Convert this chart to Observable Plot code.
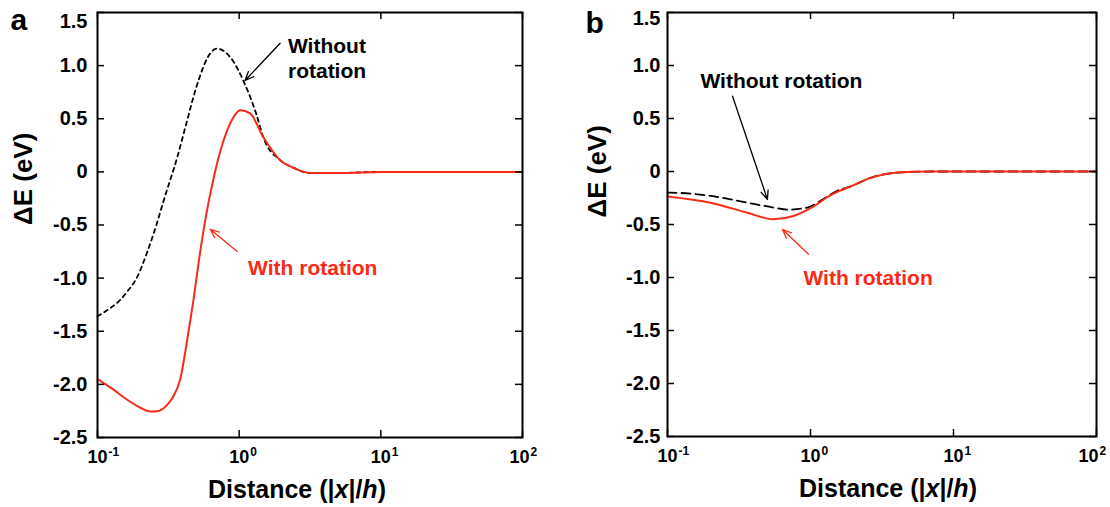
<!DOCTYPE html>
<html><head><meta charset="utf-8">
<script src="https://cdn.jsdelivr.net/npm/d3@7"></script>
<script src="https://cdn.jsdelivr.net/npm/@observablehq/plot@0.6"></script>
<style>
body{margin:0;background:#fff;}
#wrap{display:flex;width:1110px;height:507px;overflow:hidden;}
</style></head><body><div id="wrap"></div>
<script>
// ---- tick data ----
const xTicks = [0.1, 1, 10, 100];
const xTickBase = ["10", "10", "10", "10"];
const xTickExp = ["-1", "0", "1", "2"];
const yTicks = [1.5, 1, 0.5, 0, -0.5, -1, -1.5, -2, -2.5];
const yTickLabels = ["1.5", "1.0", "0.5", "0", "-0.5", "-1.0", "-1.5", "-2.0", "-2.5"];
const xTitle = "Distance (|x|/h)";
const yTitle = "ΔE (eV)";

// ---- panel a ----
const aWithoutX = [0.1, 0.1176, 0.1383, 0.1626, 0.1913, 0.225, 0.2646, 0.2917, 0.366, 0.4305, 0.4745, 0.5314, 0.595, 0.70, 0.864, 1.102, 1.339, 1.476, 1.945, 2.40, 3.16, 5.14, 10, 100];
const aWithoutY = [-1.36, -1.30, -1.23, -1.125, -0.985, -0.75, -0.47, -0.28, 0.14, 0.49, 0.70, 0.91, 1.07, 1.16, 1.08, 0.82, 0.52, 0.33, 0.11, 0.04, -0.01, -0.01, 0, 0];
const aWithX = [0.1, 0.1297, 0.160, 0.201, 0.236, 0.269, 0.301, 0.337, 0.384, 0.43, 0.474, 0.531, 0.586, 0.656, 0.734, 0.823, 0.908, 1.016, 1.195, 1.475, 1.945, 2.40, 3.16, 5.14, 10, 100];
const aWithY = [-1.95, -2.05, -2.14, -2.22, -2.255, -2.25, -2.21, -2.13, -1.95, -1.58, -1.22, -0.75, -0.40, -0.075, 0.19, 0.39, 0.51, 0.58, 0.55, 0.33, 0.11, 0.04, -0.01, -0.01, 0, 0];
const aTexts = [
  {x: 2.21, y: 1.285, text: "Without\nrotation", color: "black"},
  {x: 1.156, y: -0.80, text: "With rotation", color: "red"}
];
const aArrows = [
  {x1: 1.945, y1: 1.21, x2: 1.10, y2: 0.86, color: "black"},
  {x1: 0.969, y1: -0.75, x2: 0.625, y2: -0.54, color: "red"}
];

// ---- panel b ----
const bWithoutX = [0.1, 0.105, 0.2, 0.363, 0.55, 0.69, 0.953, 1.23, 1.55, 1.91, 2.63, 4.05, 6.9, 10, 100];
const bWithoutY = [-0.20, -0.20, -0.23, -0.295, -0.34, -0.36, -0.34, -0.26, -0.18, -0.14, -0.06, -0.01, 0, 0, 0];
const bWithX = [0.1, 0.2, 0.363, 0.55, 0.76, 1.05, 1.32, 1.55, 1.91, 2.63, 4.05, 6.9, 10, 100];
const bWithY = [-0.235, -0.295, -0.39, -0.45, -0.42, -0.33, -0.24, -0.19, -0.14, -0.06, -0.01, 0, 0, 0];
const bTexts = [
  {x: 0.170, y: 0.96, text: "Without rotation", color: "black"},
  {x: 0.893, y: -0.906, text: "With rotation", color: "red"}
];
const bArrows = [
  {x1: 0.285, y1: 0.71, x2: 0.50, y2: -0.264, color: "black"},
  {x1: 0.968, y1: -0.78, x2: 0.637, y2: -0.547, color: "red"}
];

const RED = "#fb2a17";
const toPts = (xs, ys) => xs.map((x, i) => ({x, y: ys[i]}));
const col = c => c === "red" ? RED : "black";
const xFmt = d => xTickBase[xTicks.indexOf(d)];
const yFmt = d => yTickLabels[yTicks.indexOf(d)];

function panel(cfg) {
  const W = 555, H = 507;
  const pw = W - cfg.ml - cfg.mr, ph = H - cfg.mt - cfg.mb;
  const mainTicks = xTicks.slice(0, 3), lastTick = xTicks.slice(3);
  const plot = Plot.plot({
    width: W, height: H,
    marginLeft: cfg.ml, marginRight: cfg.mr, marginTop: cfg.mt, marginBottom: cfg.mb,
    style: {fontFamily: "'Liberation Sans', Arial, Helvetica, sans-serif", fontWeight: "bold", fontSize: "20px", color: "black", background: "white"},
    x: {type: "log", domain: [0.1, 100]},
    y: {domain: [-2.5, 1.5]},
    marks: [
      Plot.line(toPts(cfg.withoutX, cfg.withoutY), {x: "x", y: "y", stroke: "black", strokeWidth: 1.8, strokeDasharray: cfg.dash, curve: "monotone-x"}),
      Plot.line(toPts(cfg.withX, cfg.withY), {x: "x", y: "y", stroke: RED, strokeWidth: 2, curve: "monotone-x"}),
      Plot.arrow(cfg.arrows, {x1: "x1", y1: "y1", x2: "x2", y2: "y2", stroke: d => col(d.color), strokeWidth: 1.3, headLength: 11, headAngle: 45}),
      Plot.text(cfg.texts, {x: "x", y: "y", text: "text", fill: d => col(d.color), textAnchor: "start", lineAnchor: "top", fontSize: 21, lineHeight: 1.2, fontWeight: "bold"}),
      Plot.ruleX(xTicks, {x: d => d, insetTop: ph - 7, stroke: "black", strokeWidth: 1.5}),
      Plot.ruleX(xTicks, {x: d => d, insetBottom: ph - 7, stroke: "black", strokeWidth: 1.5}),
      Plot.ruleY(yTicks, {y: d => d, insetRight: pw - 7, stroke: "black", strokeWidth: 1.5}),
      Plot.ruleY(yTicks, {y: d => d, insetLeft: pw - 7, stroke: "black", strokeWidth: 1.5}),
      Plot.frame({stroke: "black", strokeWidth: 2}),
      Plot.axisX(mainTicks, {tickSize: 0, tickPadding: 13, tickFormat: xFmt, fontSize: 18, label: null}),
      Plot.text(mainTicks, {x: d => d, frameAnchor: "bottom", text: (d, i) => xTickExp[i], textAnchor: "start", lineAnchor: "top", dx: 11, dy: 10, fontSize: 12, fontWeight: "bold"}),
      Plot.axisX(lastTick, {tickSize: 0, tickPadding: 13, dx: cfg.lastDx, tickFormat: xFmt, fontSize: 18, label: null}),
      Plot.text(lastTick, {x: d => d, frameAnchor: "bottom", text: () => xTickExp[3], textAnchor: "start", lineAnchor: "top", dx: 11 + cfg.lastDx, dy: 10, fontSize: 12, fontWeight: "bold"}),
      Plot.axisY(yTicks.slice(1), {tickSize: 0, tickPadding: cfg.yPad, tickFormat: yFmt, fontSize: 20, label: null}),
      Plot.axisY([1.5], {tickSize: 0, tickPadding: cfg.yPad, dy: cfg.topDy, tickFormat: yFmt, fontSize: 20, label: null}),
      Plot.text([cfg.letter], {frameAnchor: "top-left", text: d => d, dx: cfg.letterDx, dy: cfg.letterDy, lineAnchor: "bottom", textAnchor: "start", fontSize: 30, fontWeight: "bold"}),
      Plot.text([yTitle], {frameAnchor: "left", text: d => d, rotate: -90, dx: cfg.ylabDx, dy: cfg.ylabDy, fontSize: 26, fontWeight: "bold"}),
      Plot.text([xTitle], {frameAnchor: "bottom", text: d => d, lineAnchor: "top", dx: cfg.xlabDx, dy: 43, fontSize: 25, fontWeight: "bold"})
    ]
  });
  // italicise x and h in axis title
  d3.select(plot).selectAll("text").filter(function () { return this.textContent === xTitle; }).each(function () {
    const t = d3.select(this);
    t.text(null);
    [["Distance (|", false], ["x", true], ["|/", false], ["h", true], [")", false]].forEach(([s, it]) => {
      const ts = t.append("tspan").text(s);
      if (it) ts.attr("font-style", "italic");
    });
  });
  return plot;
}

const wrap = document.getElementById("wrap");
wrap.append(panel({
  letter: "a", ml: 97, mr: 33, mt: 12, mb: 70, yPad: 10, topDy: 9, lastDx: -3,
  withoutX: aWithoutX, withoutY: aWithoutY, withX: aWithX, withY: aWithY,
  dash: "4,4", texts: aTexts, arrows: aArrows,
  letterDx: -87, letterDy: 17, ylabDx: -74, ylabDy: 0, xlabDx: -13
}));
wrap.append(panel({
  letter: "b", ml: 112, mr: 14, mt: 12, mb: 71, yPad: 7, topDy: 6, lastDx: -8,
  withoutX: bWithoutX, withoutY: bWithoutY, withX: bWithX, withY: bWithY,
  dash: "9,5", texts: bTexts, arrows: bArrows,
  letterDx: -82, letterDy: 20, ylabDx: -70, ylabDy: -7, xlabDx: 6
}));
</script></body></html>
